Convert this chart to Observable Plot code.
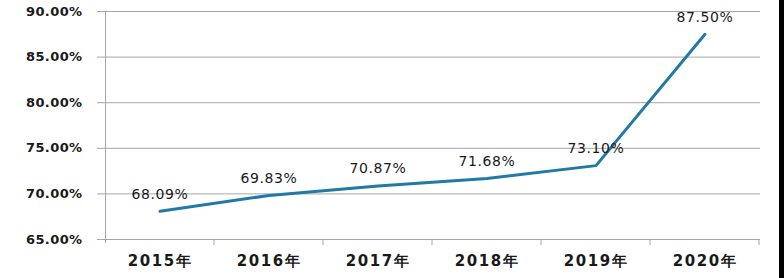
<!DOCTYPE html>
<html><head><meta charset="utf-8">
<script src="https://cdn.jsdelivr.net/npm/d3@7"></script>
<script src="https://cdn.jsdelivr.net/npm/@observablehq/plot@0.6"></script>
<style>
html,body{margin:0;padding:0;background:#fff;}
#chart{width:779px;height:278px;border-right:5px solid #000;overflow:hidden;}
svg{display:block;}
.ylab text{letter-spacing:0.4px;}
.xlab text{letter-spacing:1.6px;}
.dlab text{letter-spacing:0.6px;}
</style></head>
<body><div id="chart"></div>
<script>
const years = ["2015年","2016年","2017年","2018年","2019年","2020年"];
const rates = [0.6809, 0.6983, 0.7087, 0.7168, 0.7310, 0.8750];
const rateLabels = ["68.09%","69.83%","70.87%","71.68%","73.10%","87.50%"];
const yTicks = [0.65, 0.70, 0.75, 0.80, 0.85, 0.90];

const data = years.map((y, i) => ({year: y, rate: rates[i], label: rateLabels[i]}));

const gray = "#a6a6a6";

// y axis line at the left band edge and band-boundary ticks under the x axis,
// positioned with the library's own scales
function axisFrame(index, scales, values, dims) {
  const g = d3.create("svg:g");
  const x = scales.scales.x;
  const y = scales.scales.y;
  const bw = x.bandwidth;
  const y0 = y.apply(yTicks[0]);
  const yTop = y.apply(yTicks[yTicks.length - 1]);
  const xs = years.map(c => x.apply(c));
  xs.push(xs[xs.length - 1] + bw);
  g.append("line").attr("x1", xs[0] + 0.5).attr("x2", xs[0] + 0.5).attr("y1", yTop).attr("y2", y0 + 4)
    .attr("stroke", gray).attr("stroke-width", 1);
  for (const px of xs.slice(1)) {
    g.append("line").attr("x1", px).attr("x2", px).attr("y1", y0).attr("y2", y0 + 6)
      .attr("stroke", gray).attr("stroke-width", 1);
  }
  return g.node();
}

const chart = Plot.plot({
  width: 779,
  height: 278,
  marginLeft: 103,
  marginRight: 19,
  marginTop: 11,
  marginBottom: 39,
  style: {fontFamily: "DejaVu Sans", background: "#fff"},
  x: {type: "band", domain: years, padding: 0},
  y: {domain: [0.65, 0.90], ticks: yTicks},
  marks: [
    Plot.gridY(yTicks, {stroke: gray, strokeOpacity: 1, strokeWidth: 1}),
    axisFrame,
    Plot.axisY(yTicks, {className: "ylab", tickSize: 6, tickPadding: 15, stroke: gray, tickFormat: d => (d * 100).toFixed(2) + "%",
      fontSize: 13, fontWeight: "bold", fill: "#1a1a1a", label: null}),
    Plot.axisX({className: "xlab", tickSize: 0, tickPadding: 16, fontSize: 15, fontWeight: "bold", fill: "#1a1a1a", label: null}),
    Plot.line(data, {x: "year", y: "rate", stroke: "#2179a6", strokeWidth: 3}),
    Plot.text(data, {className: "dlab", x: "year", y: "rate", text: "label", dy: -17, fontSize: 14, fill: "#1a1a1a"})
  ]
});
document.getElementById("chart").appendChild(chart);
</script>
</body></html>
